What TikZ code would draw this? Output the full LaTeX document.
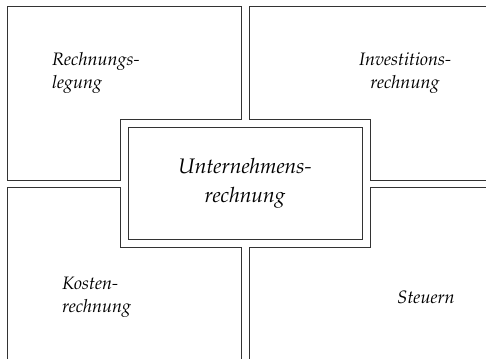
\documentclass[tikz,border=0pt]{standalone}
\usepackage[T1]{fontenc}
\usepackage{mathpazo}
\usepackage{tikz}
\tikzstyle{bereich} = [draw=black!80, line width=0.8pt]
\tikzstyle{kern} = [draw=black!80, line width=0.8pt, minimum width=234pt, minimum height=112pt, align=center, font=\fontsize{21}{29}\selectfont\itshape]
\tikzstyle{beschriftung} = [font=\fontsize{18}{22.5}\selectfont\itshape, inner sep=0pt]

\begin{document}
\begin{tikzpicture}[x=1pt,y=-1pt]
		\clip (0,0) rectangle (486,358);
		% Quadranten
		\draw[bereich] (7,6) -- (241,6) -- (241,119) -- (120,119) -- (120,180) -- (7,180) -- cycle;
		\draw[bereich] (492,6) -- (249,6) -- (249,119) -- (370,119) -- (370,180) -- (492,180);
		\draw[bereich] (7,362) -- (7,187) -- (120,187) -- (120,247) -- (241,247) -- (241,362);
		\draw[bereich] (492,187) -- (370,187) -- (370,247) -- (249,247) -- (249,362);
		% Mitte
		\node[kern] (mitte) at (245,183) {Unternehmens-\\rechnung};
		% Beschriftungen
		\node[beschriftung, align=left, anchor=west] (rl) at (52,73) {Rechnungs-\\legung};
		\node[beschriftung, align=center] (ir) at (405,73) {Investitions-\\rechnung};
		\node[beschriftung, align=left, anchor=west] (kr) at (62,297) {Kosten-\\rechnung};
		\node[beschriftung] (st) at (426,297) {Steuern};
	\end{tikzpicture}
\end{document}
